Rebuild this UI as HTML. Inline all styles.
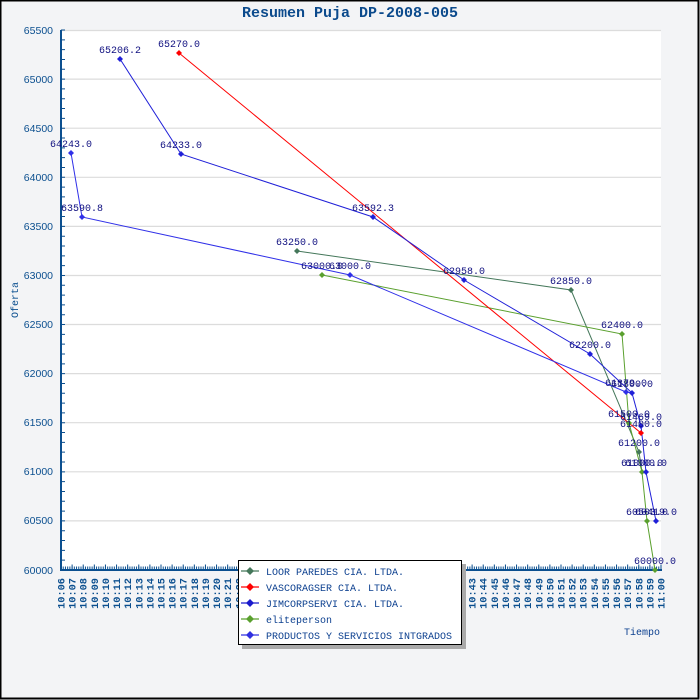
<!DOCTYPE html>
<html><head><meta charset="utf-8"><style>
html,body{margin:0;padding:0;background:#f3f4f6;}
svg{display:block;}
</style></head><body>
<svg width="700" height="700" viewBox="0 0 700 700" xmlns="http://www.w3.org/2000/svg">
<rect x="0" y="0" width="700" height="700" fill="#f3f4f6"/>
<rect x="0.5" y="0.5" width="698" height="698" fill="none" stroke="#000" stroke-width="2"/>
<text x="350" y="17" text-anchor="middle" font-family="Liberation Mono, monospace" font-weight="bold" font-size="15" fill="#0b4a8c">Resumen Puja DP-2008-005</text>
<rect x="61" y="30" width="600" height="540" fill="#fff"/>
<g stroke="#dcdcdc" stroke-width="1.2">
<line x1="61" x2="661" y1="30.5" y2="30.5"/>
<line x1="61" x2="661" y1="79.1" y2="79.1"/>
<line x1="61" x2="661" y1="128.2" y2="128.2"/>
<line x1="61" x2="661" y1="177.3" y2="177.3"/>
<line x1="61" x2="661" y1="226.4" y2="226.4"/>
<line x1="61" x2="661" y1="275.5" y2="275.5"/>
<line x1="61" x2="661" y1="324.5" y2="324.5"/>
<line x1="61" x2="661" y1="373.6" y2="373.6"/>
<line x1="61" x2="661" y1="422.7" y2="422.7"/>
<line x1="61" x2="661" y1="471.8" y2="471.8"/>
<line x1="61" x2="661" y1="520.9" y2="520.9"/>
</g>
<!-- axes -->
<g stroke="#0b4f8f">
<line x1="61" y1="30" x2="61" y2="571" stroke-width="2"/>
<line x1="60" y1="570" x2="662" y2="570" stroke-width="2"/>
<path d="M63 570.5 V29" stroke-width="4" fill="none" stroke-dasharray="1 8.818"/>
<path d="M60.5 568 H662" stroke-width="3" fill="none" stroke-dasharray="1 1.2222"/>
<path d="M60.5 567 H662" stroke-width="5" fill="none" stroke-dasharray="1 10.111"/>
</g>
<g font-family="Liberation Sans, sans-serif" font-size="10.5" fill="#0b4f8f" text-anchor="end">
<text x="53" y="34">65500</text>
<text x="53" y="83">65000</text>
<text x="53" y="132">64500</text>
<text x="53" y="181">64000</text>
<text x="53" y="230">63500</text>
<text x="53" y="279">63000</text>
<text x="53" y="328">62500</text>
<text x="53" y="377">62000</text>
<text x="53" y="426">61500</text>
<text x="53" y="475">61000</text>
<text x="53" y="524">60500</text>
<text x="53" y="574">60000</text>
</g>
<text transform="translate(18,300) rotate(-90)" text-anchor="middle" font-family="Liberation Mono, monospace" font-size="10" fill="#0b4f8f">Oferta</text>
<text x="624" y="635" font-family="Liberation Mono, monospace" font-size="10" fill="#0b3f8f">Tiempo</text>
<g transform="rotate(-90)" font-family="Liberation Mono, monospace" font-weight="bold" font-size="10.3" fill="#0b4f8f" text-anchor="end">
<text x="-578" y="64.5">10:06</text>
<text x="-578" y="75.6">10:07</text>
<text x="-578" y="86.7">10:08</text>
<text x="-578" y="97.8">10:09</text>
<text x="-578" y="108.9">10:10</text>
<text x="-578" y="120.1">10:11</text>
<text x="-578" y="131.2">10:12</text>
<text x="-578" y="142.3">10:13</text>
<text x="-578" y="153.4">10:14</text>
<text x="-578" y="164.5">10:15</text>
<text x="-578" y="175.6">10:16</text>
<text x="-578" y="186.7">10:17</text>
<text x="-578" y="197.8">10:18</text>
<text x="-578" y="208.9">10:19</text>
<text x="-578" y="220.1">10:20</text>
<text x="-578" y="231.2">10:21</text>
<text x="-578" y="242.3">10:22</text>
<text x="-578" y="253.4">10:23</text>
<text x="-578" y="264.5">10:24</text>
<text x="-578" y="275.6">10:25</text>
<text x="-578" y="286.7">10:26</text>
<text x="-578" y="297.8">10:27</text>
<text x="-578" y="308.9">10:28</text>
<text x="-578" y="320.1">10:29</text>
<text x="-578" y="331.2">10:30</text>
<text x="-578" y="342.3">10:31</text>
<text x="-578" y="353.4">10:32</text>
<text x="-578" y="364.5">10:33</text>
<text x="-578" y="375.6">10:34</text>
<text x="-578" y="386.7">10:35</text>
<text x="-578" y="397.8">10:36</text>
<text x="-578" y="408.9">10:37</text>
<text x="-578" y="420.1">10:38</text>
<text x="-578" y="431.2">10:39</text>
<text x="-578" y="442.3">10:40</text>
<text x="-578" y="453.4">10:41</text>
<text x="-578" y="464.5">10:42</text>
<text x="-578" y="475.6">10:43</text>
<text x="-578" y="486.7">10:44</text>
<text x="-578" y="497.8">10:45</text>
<text x="-578" y="508.9">10:46</text>
<text x="-578" y="520.1">10:47</text>
<text x="-578" y="531.2">10:48</text>
<text x="-578" y="542.3">10:49</text>
<text x="-578" y="553.4">10:50</text>
<text x="-578" y="564.5">10:51</text>
<text x="-578" y="575.6">10:52</text>
<text x="-578" y="586.7">10:53</text>
<text x="-578" y="597.8">10:54</text>
<text x="-578" y="608.9">10:55</text>
<text x="-578" y="620.1">10:56</text>
<text x="-578" y="631.2">10:57</text>
<text x="-578" y="642.3">10:58</text>
<text x="-578" y="653.4">10:59</text>
<text x="-578" y="664.5">11:00</text>
</g>
<!-- series -->
<g fill="none" stroke-width="1">
<polyline stroke="#44775a" points="297,251 571,290 639,452 642,472"/>
<polyline stroke="#5aa02e" points="322,275 622,334 629,423 642,472 647,521 655,570"/>
<polyline stroke="#ff0000" points="179,53 641,433"/>
<polyline stroke="#2020d8" points="120,59 181,154 373,217 464,280 590,354 632,393 641,426 646,472 656,521"/>
<polyline stroke="#3030e8" points="71,153 82,217 350,275 626,392 632,393"/>
</g>
<g>
<g fill="#44775a"><path d="M297 248l3 3l-3 3l-3 -3z"/><path d="M571 287l3 3l-3 3l-3 -3z"/><path d="M639 449l3 3l-3 3l-3 -3z"/></g>
<g fill="#5aa02e"><path d="M322 272l3 3l-3 3l-3 -3z"/><path d="M622 331l3 3l-3 3l-3 -3z"/><path d="M629 420l3 3l-3 3l-3 -3z"/><path d="M642 469l3 3l-3 3l-3 -3z"/><path d="M647 518l3 3l-3 3l-3 -3z"/><path d="M655 567l3 3l-3 3l-3 -3z"/></g>
<g fill="#ff0000"><path d="M179 50l3 3l-3 3l-3 -3z"/><path d="M641 430l3 3l-3 3l-3 -3z"/></g>
<g fill="#2020d8"><path d="M120 56l3 3l-3 3l-3 -3z"/><path d="M181 151l3 3l-3 3l-3 -3z"/><path d="M373 214l3 3l-3 3l-3 -3z"/><path d="M464 277l3 3l-3 3l-3 -3z"/><path d="M590 351l3 3l-3 3l-3 -3z"/><path d="M632 390l3 3l-3 3l-3 -3z"/><path d="M641 423l3 3l-3 3l-3 -3z"/><path d="M646 469l3 3l-3 3l-3 -3z"/><path d="M656 518l3 3l-3 3l-3 -3z"/></g>
<g fill="#3030e8"><path d="M71 150l3 3l-3 3l-3 -3z"/><path d="M82 214l3 3l-3 3l-3 -3z"/><path d="M350 272l3 3l-3 3l-3 -3z"/><path d="M626 389l3 3l-3 3l-3 -3z"/></g>
</g>
<!-- data labels -->
<g font-family="Liberation Mono, monospace" font-size="10" fill="#101080" text-anchor="middle">
<text x="120" y="53">65206.2</text>
<text x="179" y="47">65270.0</text>
<text x="71" y="147">64243.0</text>
<text x="181" y="148">64233.0</text>
<text x="82" y="211">63590.8</text>
<text x="373" y="211">63592.3</text>
<text x="297" y="245">63250.0</text>
<text x="322" y="269">63000.0</text>
<text x="350" y="269">63000.0</text>
<text x="464" y="274">62958.0</text>
<text x="571" y="284">62850.0</text>
<text x="622" y="328">62400.0</text>
<text x="590" y="348">62200.0</text>
<text x="626" y="386">61879.0</text>
<text x="632" y="387">61800.0</text>
<text x="629" y="417">61500.0</text>
<text x="641" y="420">61469.0</text>
<text x="641" y="427">61400.0</text>
<text x="639" y="446">61200.0</text>
<text x="642" y="466">61000.0</text>
<text x="646" y="466">61000.0</text>
<text x="647" y="515">60500.0</text>
<text x="656" y="515">60419.0</text>
<text x="655" y="564">60000.0</text>
</g>
<!-- legend -->
<rect x="242" y="564" width="224" height="85" fill="#aaaaaa"/>
<rect x="238.5" y="560.5" width="223" height="84" fill="#fff" stroke="#000" stroke-width="1"/>
<g stroke-width="1.2">
<line x1="241" x2="259" y1="571" y2="571" stroke="#44775a"/><path d="M250 567l4 4l-4 4l-4 -4z" fill="#44775a"/>
<line x1="241" x2="259" y1="587" y2="587" stroke="#ff0000"/><path d="M250 583l4 4l-4 4l-4 -4z" fill="#ff0000"/>
<line x1="241" x2="259" y1="603" y2="603" stroke="#1a1acc"/><path d="M250 599l4 4l-4 4l-4 -4z" fill="#1a1acc"/>
<line x1="241" x2="259" y1="619" y2="619" stroke="#5aa02e"/><path d="M250 615l4 4l-4 4l-4 -4z" fill="#5aa02e"/>
<line x1="241" x2="259" y1="635" y2="635" stroke="#3030e0"/><path d="M250 631l4 4l-4 4l-4 -4z" fill="#3030e0"/>
</g>
<g font-family="Liberation Mono, monospace" font-size="10" fill="#0b3f8f">
<text x="266" y="575">LOOR PAREDES CIA. LTDA.</text>
<text x="266" y="591">VASCORAGSER CIA. LTDA.</text>
<text x="266" y="607">JIMCORPSERVI CIA. LTDA.</text>
<text x="266" y="623">eliteperson</text>
<text x="266" y="639">PRODUCTOS Y SERVICIOS INTGRADOS</text>
</g>
</svg>
</body></html>
